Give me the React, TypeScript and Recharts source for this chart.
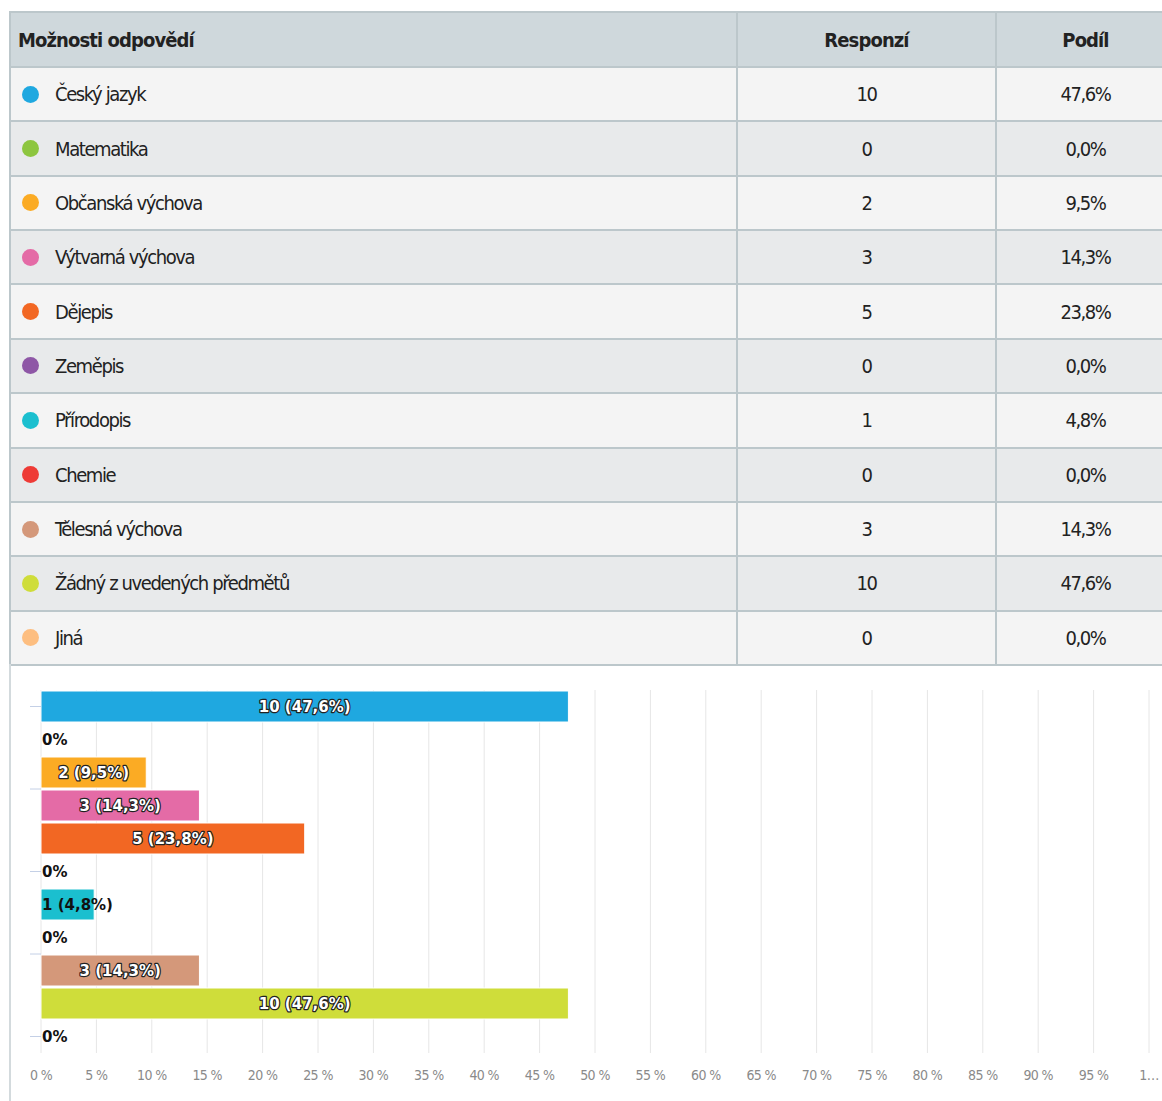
import { Bar, BarChart, CartesianGrid, Cell, LabelList, XAxis, YAxis } from 'recharts'

const categories = [
  'Český jazyk',
  'Matematika',
  'Občanská výchova',
  'Výtvarná výchova',
  'Dějepis',
  'Zeměpis',
  'Přírodopis',
  'Chemie',
  'Tělesná výchova',
  'Žádný z uvedených předmětů',
  'Jiná',
]
const responses = [10, 0, 2, 3, 5, 0, 1, 0, 3, 10, 0]
const shares = [47.6, 0, 9.5, 14.3, 23.8, 0, 4.8, 0, 14.3, 47.6, 0]
const colors = [
  '#1fa8e0',
  '#8dc63f',
  '#fbab24',
  '#e46ba6',
  '#f26723',
  '#8e57a6',
  '#1bbfcf',
  '#ee3b36',
  '#d4987a',
  '#cfdd3a',
  '#fdbe80',
]
const percentTicks = [0, 5, 10, 15, 20, 25, 30, 35, 40, 45, 50, 55, 60, 65, 70, 75, 80, 85, 90, 95, 100]
// category-axis tick marks, in category index units (x.5 = border below that category)
const axisMarks = [0, 2.5, 5, 7.5, 10]
const headers = ['Možnosti odpovědí', 'Responzí', 'Podíl']

const fmtShare = (v: number) => `${v.toFixed(1).replace('.', ',')}%`

const chartData = categories.map((name, i) => ({
  name,
  pct: shares[i],
  count: responses[i],
  label: `${responses[i]} (${fmtShare(shares[i])})`,
}))

const tableFont = "'DejaVu Sans', sans-serif"
const lineColor = '#bcc7cb'
const labelStyle = { fontFamily: "'DejaVu Sans', sans-serif", fontWeight: 700, fontSize: 15 }

function BarLabel(props: any) {
  const { x, y, width, height, value } = props
  const cy = y + height / 2
  if (width < 70) {
    return (
      <text x={x + 1} y={cy} dy="0.35em" textAnchor="start" fill="#111" style={labelStyle}>
        {value}
      </text>
    )
  }
  return (
    <text
      x={x + width / 2}
      y={cy}
      dy="0.35em"
      textAnchor="middle"
      fill="#ffffff"
      stroke="#222"
      strokeWidth={2.4}
      strokeLinejoin="round"
      paintOrder="stroke"
      style={labelStyle}
    >
      {value}
    </text>
  )
}

// category tick: axis mark where listed, and "0%" for answers nobody picked
function CategoryTick(props: any) {
  const { x, y, payload, index } = props
  const row = chartData.find((d) => d.name === payload.value)
  const half = payload.offset ?? 16.5
  const mark = axisMarks.find((m) => Math.floor(m) === index)
  return (
    <g>
      {mark !== undefined && (
        <line
          x1={x - 11}
          x2={x}
          y1={y + (mark - index) * 2 * half}
          y2={y + (mark - index) * 2 * half}
          stroke="#c4d0e6"
          strokeWidth={1}
        />
      )}
      {row && row.pct === 0 && (
        <text x={x + 1} y={y} dy="0.35em" textAnchor="start" fill="#111" style={labelStyle}>
          0%
        </text>
      )}
    </g>
  )
}

export default function App() {
  return (
    <div
      style={{
        position: 'absolute',
        left: 0,
        top: 0,
        width: 1162,
        height: 1101,
        overflow: 'hidden',
        background: '#ffffff',
      }}
    >
      {/* answer table */}
      <div
        style={{
          position: 'absolute',
          left: 9,
          top: 11,
          width: 1165,
          borderLeft: `2px solid ${lineColor}`,
          borderTop: `2px solid ${lineColor}`,
          boxSizing: 'border-box',
          fontFamily: tableFont,
          fontStretch: 'condensed',
          color: '#222',
        }}
      >
        <div style={{ display: 'flex', height: 55, background: '#cfd8dc', boxSizing: 'border-box', borderBottom: `2px solid ${lineColor}` }}>
          {headers.map((h, i) => (
            <div
              key={h}
              style={{
                width: i === 0 ? 727 : i === 1 ? 259 : 177,
                boxSizing: 'border-box',
                borderRight: i < 2 ? `2px solid ${lineColor}` : 'none',
                display: 'flex',
                alignItems: 'center',
                justifyContent: i === 0 ? 'flex-start' : 'center',
                paddingLeft: i === 0 ? 7 : 0,
                fontSize: 20,
                fontWeight: 700,
                letterSpacing: -0.9,
              }}
            >
              {h}
            </div>
          ))}
        </div>
        {categories.map((name, i) => (
          <div
            key={name}
            style={{
              display: 'flex',
              height: 54.36,
              background: i % 2 === 0 ? '#f4f4f4' : '#e8eaeb',
              boxSizing: 'border-box',
              borderBottom: `2px solid ${lineColor}`,
              fontSize: 20,
              letterSpacing: -1.4,
            }}
          >
            <div
              style={{
                width: 727,
                boxSizing: 'border-box',
                borderRight: `2px solid ${lineColor}`,
                display: 'flex',
                alignItems: 'center',
                paddingLeft: 11,
              }}
            >
              <span
                style={{
                  display: 'inline-block',
                  width: 17,
                  height: 17,
                  borderRadius: '50%',
                  background: colors[i],
                  marginRight: 16,
                }}
              />
              {name}
            </div>
            <div
              style={{
                width: 259,
                boxSizing: 'border-box',
                borderRight: `2px solid ${lineColor}`,
                display: 'flex',
                alignItems: 'center',
                justifyContent: 'center',
              }}
            >
              {responses[i]}
            </div>
            <div style={{ width: 177, display: 'flex', alignItems: 'center', justifyContent: 'center' }}>
              {fmtShare(shares[i])}
            </div>
          </div>
        ))}
      </div>

      {/* chart frame left edge */}
      <div style={{ position: 'absolute', left: 9, top: 664, width: 2, height: 437, background: '#d3dadd' }} />

      <div style={{ position: 'absolute', left: 0, top: 664 }}>
        <BarChart
          width={1162}
          height={437}
          data={chartData}
          layout="vertical"
          margin={{ top: 26, right: 13, bottom: 0, left: 40 }}
          barCategoryGap={1}
        >
          <CartesianGrid horizontal={false} stroke="#e6e6e6" />
          <XAxis
            type="number"
            dataKey="pct"
            domain={[0, 100]}
            ticks={percentTicks}
            interval={0}
            axisLine={false}
            tickLine={false}
            tickSize={0}
            tickMargin={17}
            height={48}
            tick={{ fill: '#8a8a8a', fontSize: 14, fontFamily: tableFont, fontStretch: 'condensed', letterSpacing: -0.6 }}
            tickFormatter={(v: number) => (v === 100 ? '1…' : `${v} %`)}
          />
          <YAxis
            type="category"
            dataKey="name"
            width={1}
            axisLine={false}
            tickLine={false}
            tickSize={0}
            tickMargin={0}
            interval={0}
            tick={<CategoryTick />}
          />
          <Bar dataKey="pct" stroke="#ffffff" strokeWidth={1} isAnimationActive={false}>
            {chartData.map((d, i) => (
              <Cell key={d.name} fill={colors[i]} />
            ))}
            <LabelList dataKey="label" content={BarLabel} />
          </Bar>
        </BarChart>
      </div>
    </div>
  )
}
